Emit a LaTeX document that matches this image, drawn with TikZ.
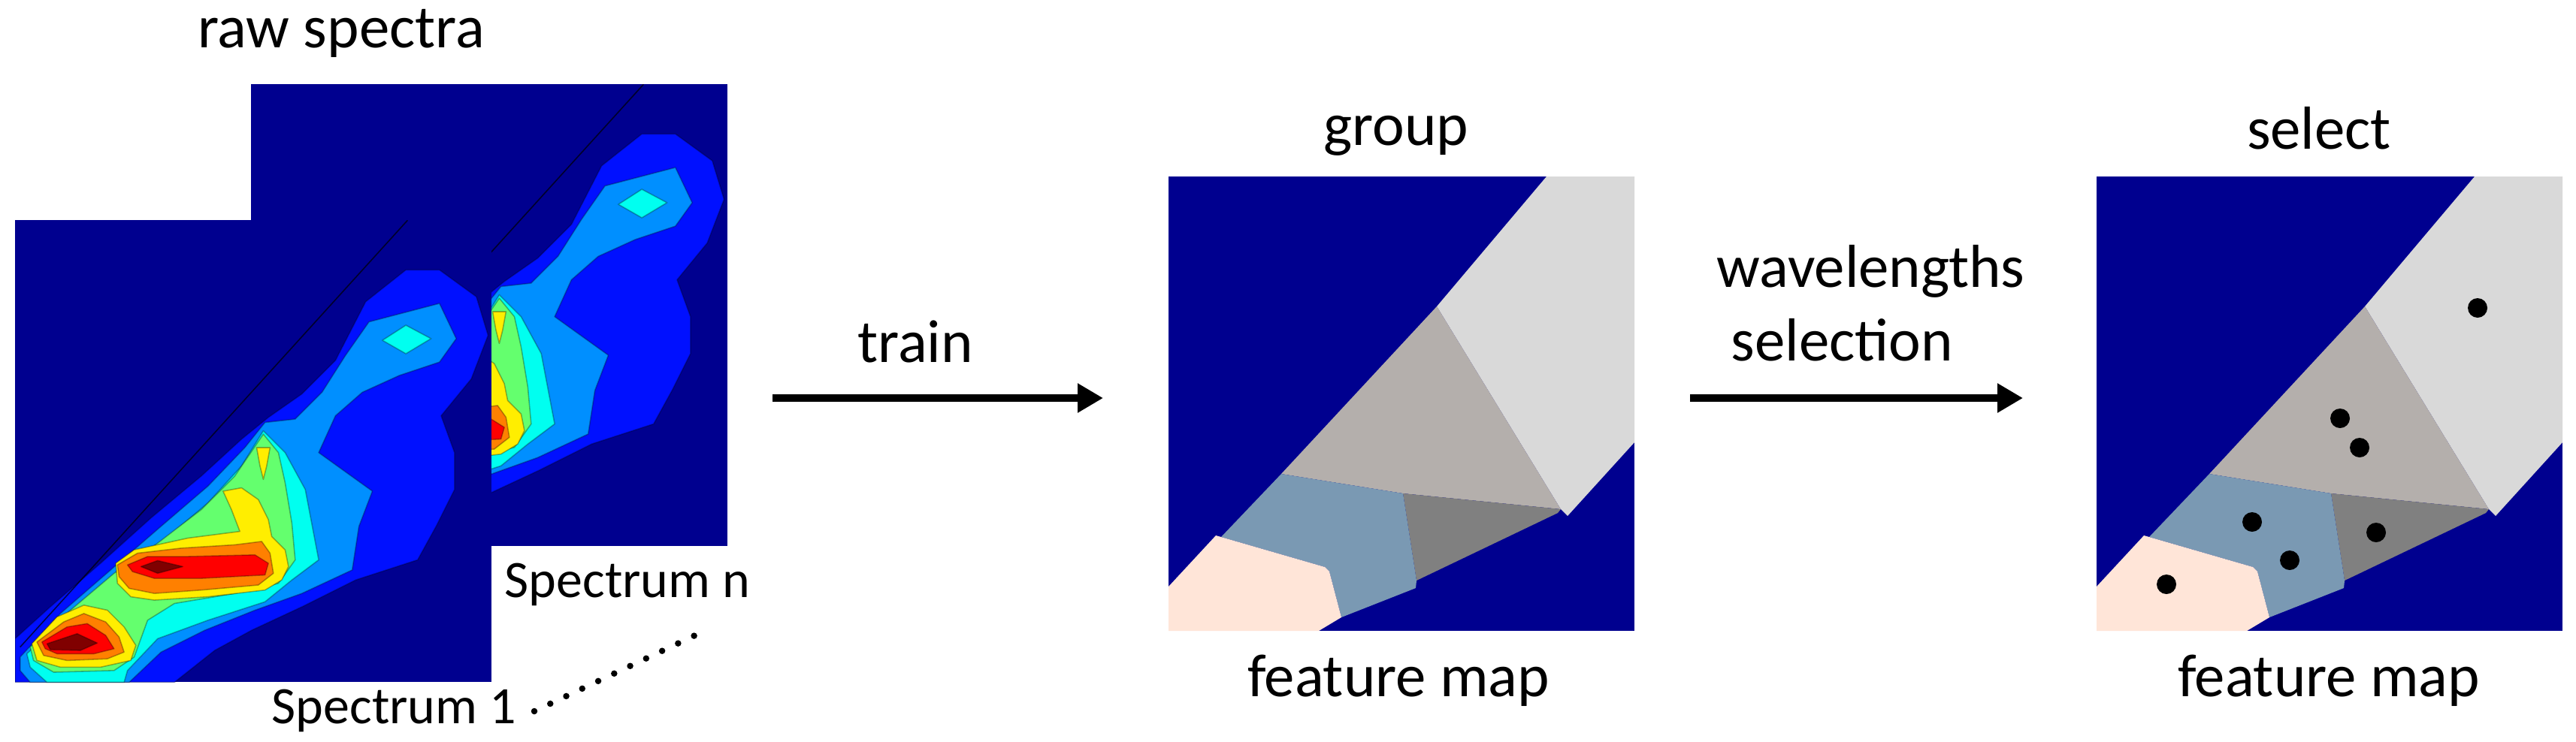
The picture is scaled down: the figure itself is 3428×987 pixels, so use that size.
\documentclass[tikz,border=0pt]{standalone}
\usepackage{fontspec}
\setmainfont{Carlito}
\usetikzlibrary{arrows.meta}
\definecolor{jnavy}{RGB}{0,0,143}
\definecolor{jblue}{RGB}{0,16,255}
\definecolor{jlblue}{RGB}{0,143,255}
\definecolor{jcyan}{RGB}{0,255,240}
\definecolor{jgreen}{RGB}{100,255,110}
\definecolor{jyellow}{RGB}{255,238,0}
\definecolor{jorange}{RGB}{255,128,0}
\definecolor{jred}{RGB}{255,0,0}
\definecolor{jdred}{RGB}{128,0,0}
\definecolor{fmlg}{RGB}{217,217,217}
\definecolor{fmmg}{RGB}{180,175,172}
\definecolor{fmdg}{RGB}{128,128,128}
\definecolor{fmbg}{RGB}{122,153,179}
\definecolor{fmpe}{RGB}{255,229,216}
\tikzset{
  band/.style={draw=black, draw opacity=0.3, line width=0.45pt, line join=round},
  lab/.style={inner sep=0pt, font=\fontsize{23}{28}\selectfont, text=black},
  slab/.style={inner sep=0pt, font=\fontsize{19.9}{24}\selectfont, text=black},
  arr/.style={line width=3.1pt, -{Triangle[length=0.34cm,width=0.37cm]}},
  dotline/.style={line width=0.085cm, line cap=round, dash pattern=on 0pt off 0.235cm},
  seldot/.style={fill=black}
}
\newcommand{\contourplot}{%
  \fill[jnavy] (45,97) rectangle (1465,1475);
  \filldraw[band, fill=jblue] (45,1345) -- (150,1250) -- (300,1120) -- (450,985) -- (600,860) -- (720,750) -- (800,685) -- (900,615) -- (1000,515) -- (1090,340) -- (1210,245) -- (1310,245) -- (1420,325) -- (1455,440) -- (1405,570) -- (1315,680) -- (1355,790) -- (1355,900) -- (1300,1010) -- (1245,1110) -- (1060,1170) -- (900,1250) -- (750,1320) -- (640,1380) -- (520,1475) -- (45,1475) -- cycle;
  \filldraw[band, fill=jlblue] (60,1400) -- (180,1270) -- (330,1140) -- (480,1010) -- (620,890) -- (730,775) -- (790,700) -- (880,690) -- (960,610) -- (1030,500) -- (1100,400) -- (1310,345) -- (1360,450) -- (1310,520) -- (1190,560) -- (1080,610) -- (1000,680) -- (950,790) -- (1110,905) -- (1070,1010) -- (1050,1140) -- (900,1210) -- (760,1260) -- (610,1320) -- (480,1385) -- (385,1475) -- (90,1475) -- (60,1440) -- cycle;
  \filldraw[band, fill=jcyan] (80,1390) -- (200,1280) -- (350,1160) -- (490,1050) -- (620,940) -- (720,830) -- (785,725) -- (850,790) -- (910,900) -- (950,1110) -- (870,1170) -- (790,1235) -- (620,1290) -- (470,1345) -- (380,1440) -- (370,1475) -- (140,1475) -- (90,1430) -- cycle;
  \filldraw[band, fill=jcyan] (1140,455) -- (1210,410) -- (1285,450) -- (1210,495) -- cycle;
  \filldraw[band, fill=jgreen] (90,1370) -- (210,1260) -- (340,1150) -- (470,1060) -- (600,960) -- (700,860) -- (785,735) -- (830,790) -- (850,880) -- (870,1000) -- (880,1110) -- (830,1180) -- (700,1210) -- (520,1240) -- (440,1290) -- (400,1400) -- (340,1440) -- (160,1445) -- (100,1410) -- cycle;
  \filldraw[band, fill=jyellow] (665,905) -- (720,895) -- (770,930) -- (800,990) -- (810,1040) -- (850,1080) -- (860,1130) -- (840,1170) -- (790,1200) -- (620,1220) -- (460,1230) -- (390,1220) -- (350,1180) -- (345,1120) -- (400,1080) -- (560,1045) -- (715,1025) -- (690,960) -- cycle;
  \filldraw[band, fill=jyellow] (765,775) -- (805,775) -- (795,830) -- (785,870) -- (775,830) -- cycle;
  \filldraw[band, fill=jyellow] (95,1360) -- (170,1280) -- (250,1245) -- (320,1260) -- (370,1310) -- (405,1365) -- (390,1410) -- (300,1430) -- (180,1430) -- (110,1410) -- cycle;
  \filldraw[band, fill=jorange] (350,1125) -- (410,1090) -- (540,1075) -- (700,1065) -- (780,1055) -- (805,1090) -- (815,1150) -- (770,1185) -- (600,1200) -- (460,1210) -- (385,1195) -- (355,1160) -- cycle;
  \filldraw[band, fill=jorange] (110,1355) -- (190,1295) -- (250,1270) -- (315,1295) -- (355,1340) -- (370,1385) -- (320,1405) -- (200,1410) -- (130,1395) -- cycle;
  \filldraw[band, fill=jred] (380,1125) -- (440,1100) -- (560,1100) -- (760,1095) -- (800,1120) -- (790,1155) -- (600,1165) -- (460,1165) -- (395,1145) -- cycle;
  \filldraw[band, fill=jred] (125,1355) -- (200,1310) -- (260,1300) -- (315,1335) -- (340,1375) -- (280,1390) -- (170,1390) -- (135,1375) -- cycle;
  \filldraw[band, fill=jdred] (420,1130) -- (470,1112) -- (545,1130) -- (470,1150) -- cycle;
  \filldraw[band, fill=jdred] (140,1360) -- (230,1330) -- (290,1358) -- (240,1380) -- (150,1378) -- cycle;
  \draw[black, line width=0.45pt, opacity=0.7] (60,1370) -- (1215,97);
}
\newcommand{\featuremap}{%
  \fill[jnavy] (0,0) rectangle (620,605);
  \fill[fmlg] (503,0) -- (620,0) -- (620,354) -- (531,452) -- (522,443) -- (357,173) -- cycle;
  \fill[fmmg] (357,173) -- (522,443) -- (312,422) -- (150,396) -- cycle;
  \fill[fmdg] (312,422) -- (522,443) -- (518,448) -- (330,538) -- cycle;
  \fill[fmbg] (150,396) -- (312,422) -- (330,538) -- (329,548) -- (230,587) -- (214,526) -- (208,520) -- (70,480) -- cycle;
  \fill[fmpe] (63,478) -- (208,520) -- (214,526) -- (230,587) -- (200,605) -- (0,605) -- (0,546) -- cycle;
}
\begin{document}
\begin{tikzpicture}[x=0.01cm,y=-0.01cm]
\useasboundingbox (0,0) rectangle (3428,987);
\fill[white] (0,0) rectangle (3428,987);
% raw spectra: back (Spectrum n)
\begin{scope}
  \clip (334,112) rectangle (968,728);
  \begin{scope}[shift={(314,69)},scale=0.4464]
    \contourplot
  \end{scope}
\end{scope}
% front (Spectrum 1)
\begin{scope}
  \clip (20,293) rectangle (654,909);
  \begin{scope}[shift={(0,250)},scale=0.4464]
    \contourplot
  \end{scope}
\end{scope}
% feature maps
\begin{scope}[shift={(1555,235)}]
  \featuremap
\end{scope}
\begin{scope}[shift={(2790,235)}]
  \featuremap
  \fill[seldot] (507,175) circle (13);
  \fill[seldot] (324,322) circle (13);
  \fill[seldot] (350,361) circle (13);
  \fill[seldot] (207,460) circle (13);
  \fill[seldot] (372,474) circle (13);
  \fill[seldot] (257,511) circle (13);
  \fill[seldot] (93,543) circle (13);
\end{scope}
% labels
\node[lab, anchor=base] (raw) at (454,63) {raw spectra};
\node[lab, anchor=base] (grp) at (1858,193) {group};
\node[lab, anchor=base] (sel) at (3086,198) {select};
\node[lab, anchor=base] (fm1) at (1861,927) {feature map};
\node[lab, anchor=base] (fm2) at (3099,927) {feature map};
\node[lab, anchor=base] (train) at (1218,482) {train};
\node[lab, anchor=base west] (wl) at (2284,382) {wavelengths};
\node[lab, anchor=base west] (wsel) at (2303,480) {selection};
\node[slab, anchor=base west] (spn) at (671,795) {Spectrum n};
\node[slab, anchor=base west] (sp1) at (361,963) {Spectrum 1};
% connectors
\coordinate (t0) at (1028,530);
\coordinate (t1) at (1468,530);
\coordinate (w0) at (2249,530);
\coordinate (w1) at (2692,530);
\coordinate (d0) at (711,947);
\coordinate (d1) at (927,845);
\draw[arr] (t0) -- (t1);
\draw[arr] (w0) -- (w1);
\draw[dotline] (d0) -- (d1);
\end{tikzpicture}
\end{document}
